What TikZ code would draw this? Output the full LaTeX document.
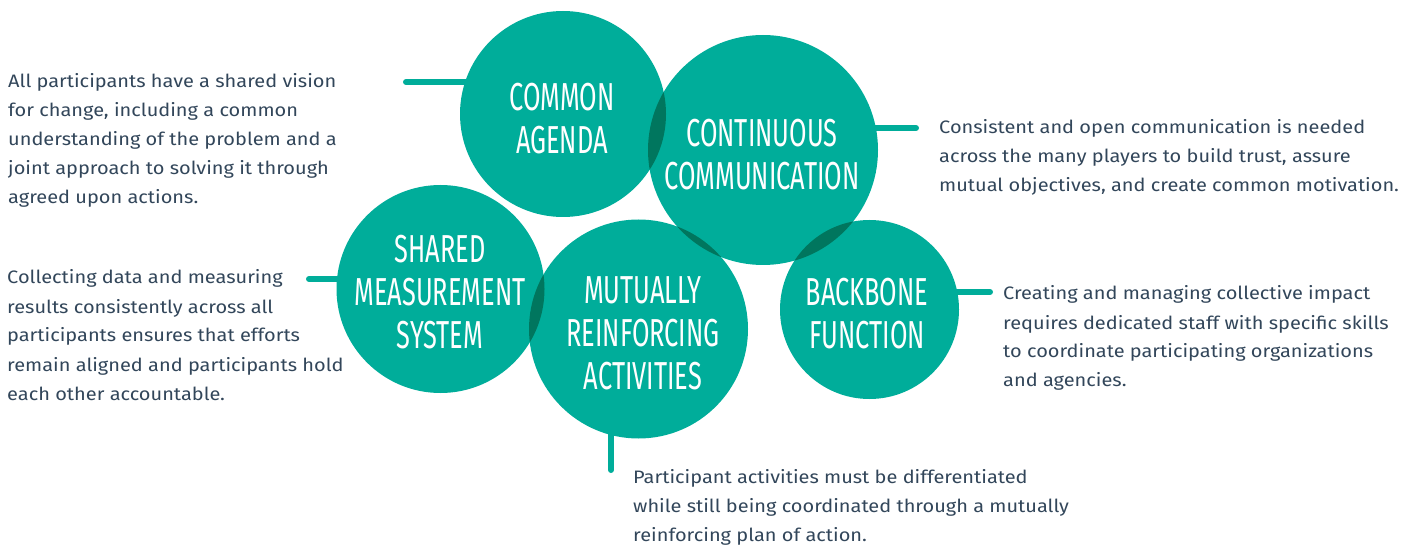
\documentclass[tikz,border=0pt]{standalone}
\usepackage{fontspec}
\setmainfont[FakeStretch=1.11]{Fira Sans}
\newfontfamily\condfont[FakeStretch=0.65]{Fira Sans}
\usetikzlibrary{backgrounds}
\definecolor{tealmain}{RGB}{0,173,154}
\definecolor{tealdark}{RGB}{0,118,94}
\definecolor{txtcol}{RGB}{50,70,90}
\newcommand{\desctext}[1]{\parbox[t]{480pt}{\fontsize{18}{29}\selectfont\raggedright #1}}
\begin{document}
\begin{tikzpicture}[x=1pt,y=-1pt,
  blob/.style={circle, fill=tealmain, inner sep=0, draw=none},
  lbl/.style={text=white, font=\condfont\fontsize{39}{43}\selectfont, align=center, inner sep=0},
  desc/.style={text=txtcol, anchor=base west, inner sep=0},
  link/.style={draw=tealmain, line width=6pt, line cap=round}]
\useasboundingbox (0,0) rectangle (1416,545);

% circles
\node[blob, minimum size=206pt] (ca) at (563,114) {};
\node[blob, minimum size=230pt] (cc) at (763,150) {};
\node[blob, minimum size=208pt] (sm) at (440.5,289) {};
\node[blob, minimum size=219pt] (mr) at (638.5,329) {};
\node[blob, minimum size=179pt] (bb) at (869.5,309.5) {};

% overlaps
\begin{scope}\clip (ca.center) circle (103pt); \fill[tealdark] (cc.center) circle (115pt);\end{scope}
\begin{scope}\clip (sm.center) circle (104pt); \fill[tealdark] (mr.center) circle (109.5pt);\end{scope}
\begin{scope}\clip (mr.center) circle (109.5pt); \fill[tealdark] (cc.center) circle (115pt);\end{scope}
\begin{scope}\clip (cc.center) circle (115pt); \fill[tealdark] (bb.center) circle (89.5pt);\end{scope}

% connector free ends
\coordinate (caEnd) at (406,82);
\coordinate (ccEnd) at (916,128);
\coordinate (smEnd) at (309,279);
\coordinate (bbEnd) at (990,292);
\coordinate (mrEnd) at (611,470);

\begin{pgfonlayer}{background}
\draw[link] (caEnd) -- (caEnd -| ca.center);
\draw[link] (ccEnd) -- (ccEnd -| cc.center);
\draw[link] (smEnd) -- (smEnd -| sm.center);
\draw[link] (bbEnd) -- (bbEnd -| bb.center);
\draw[link] (mrEnd) -- (mrEnd |- mr.center);
\end{pgfonlayer}

% labels
\node[lbl] (caLbl) at (562,118.5) {COMMON\\AGENDA};
\node[lbl] (ccLbl) at (762,154.5) {CONTINUOUS\\COMMUNICATION};
\node[lbl] (smLbl) at (440,292.5) {SHARED\\MEASUREMENT\\SYSTEM};
\node[lbl] (mrLbl) at (643,333.5) {MUTUALLY\\REINFORCING\\ACTIVITIES};
\node[lbl] (bbLbl) at (867,313.5) {BACKBONE\\FUNCTION};

% descriptions
\node[desc] (caText) at (8,88) {\desctext{All participants have a shared vision\\for change, including a common\\understanding of the problem and a\\joint approach to solving it through\\agreed upon actions.}};
\node[desc] (smText) at (7,284) {\desctext{Collecting data and measuring\\results consistently across all\\participants ensures that efforts\\remain aligned and participants hold\\each other accountable.}};
\node[desc] (ccText) at (939,134) {\desctext{Consistent and open communication is needed\\across the many players to build trust, assure\\mutual objectives, and create common motivation.}};
\node[desc] (bbText) at (1003,300) {\desctext{Creating and managing collective impact\\requires dedicated staff with specific skills\\to coordinate participating organizations\\and agencies.}};
\node[desc] (mrText) at (633,483) {\desctext{Participant activities must be differentiated\\while still being coordinated through a mutually\\reinforcing plan of action.}};
\end{tikzpicture}
\end{document}
